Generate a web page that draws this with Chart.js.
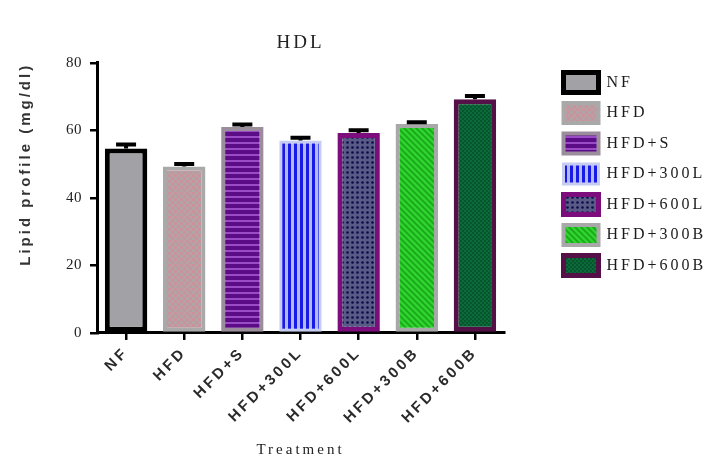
<!DOCTYPE html>
<html lang="en">
<head>
<meta charset="UTF-8">
<title>HDL</title>
<script src="https://cdn.jsdelivr.net/npm/chart.js"></script>
<style>
  body { margin: 0; background: #fff; }
</style>
</head>
<body>
<canvas id="hdlChart" width="705" height="459"></canvas>
<script>
  // data
  const groups = ['NF', 'HFD', 'HFD+S', 'HFD+300L', 'HFD+600L', 'HFD+300B', 'HFD+600B'];
  const hdl = [54.6, 49.3, 61.0, 57.0, 59.2, 61.9, 69.2];
  const sem = [1.2, 0.7, 0.7, 0.8, 0.8, 0.5, 1.0];
  const yTicks = [0, 20, 40, 60, 80];

  const borderColors = ['#000000', '#a9a9a9', '#9c8d9c', '#c6cdf0', '#7d0c7d', '#a8a8a8', '#561048'];
  const borderWidths = [5, 4, 4, 3, 5, 4, 5];

  const canvas = document.getElementById('hdlChart');
  const ctx = canvas.getContext('2d');

  // small repeating tiles for the hatched fills
  function tile(w, h, paint) {
    const c = document.createElement('canvas');
    c.width = w; c.height = h;
    paint(c.getContext('2d'), w, h);
    return ctx.createPattern(c, 'repeat');
  }

  const fills = [
    '#a2a2a6',
    tile(6, 6, (g) => {
      g.fillStyle = '#b3a3a7'; g.fillRect(0, 0, 6, 6);
      g.fillStyle = '#c9939c'; g.fillRect(0, 0, 3, 3); g.fillRect(3, 3, 3, 3);
    }),
    tile(1, 6, (g) => {
      g.fillStyle = '#5c0c86'; g.fillRect(0, 0, 1, 4);
      g.fillStyle = '#9a4cc4'; g.fillRect(0, 4, 1, 2);
    }),
    tile(6, 1, (g) => {
      g.fillStyle = '#1a1ae6'; g.fillRect(0, 0, 3, 1);
      g.fillStyle = '#b2baf2'; g.fillRect(3, 0, 3, 1);
    }),
    tile(5, 5, (g) => {
      g.fillStyle = '#5a5a86'; g.fillRect(0, 0, 5, 5);
      g.fillStyle = '#0c0c4a'; g.beginPath(); g.arc(2.5, 2.5, 1.3, 0, Math.PI * 2); g.fill();
    }),
    tile(6, 6, (g) => {
      g.fillStyle = '#2fd42f'; g.fillRect(0, 0, 6, 6);
      g.strokeStyle = '#1aa51a'; g.lineWidth = 1.6;
      g.beginPath(); g.moveTo(0, 0); g.lineTo(6, 6); g.moveTo(-3, 3); g.lineTo(3, 9); g.moveTo(3, -3); g.lineTo(9, 3); g.stroke();
    }),
    tile(4, 4, (g) => {
      g.fillStyle = '#0b6b3a'; g.fillRect(0, 0, 4, 4);
      g.fillStyle = '#07552d'; g.fillRect(0, 0, 2, 2); g.fillRect(2, 2, 2, 2);
    })
  ];

  const LEGEND_W = 201;
  const LEGEND_SHIFT_X = 49;
  const LEGEND_SHIFT_Y = 62;
  const SPACING = '3px';

  // spaced lettering + legend placement
  const layoutTweaks = {
    id: 'layoutTweaks',
    beforeLayout(chart) {
      chart.ctx.letterSpacing = SPACING;
      const lg = chart.legend;
      if (lg && !lg._patched) {
        const fit = lg.fit;
        lg.fit = function () { fit.call(this); this.width = LEGEND_W; };
        lg._patched = true;
      }
    },
    afterLayout(chart) {
      const lg = chart.legend;
      lg.left += LEGEND_SHIFT_X;
      lg.top += LEGEND_SHIFT_Y;
    },
    beforeDraw(chart) {
      chart.ctx.letterSpacing = SPACING;
    }
  };

  // SEM caps on top of each bar
  const errorBars = {
    id: 'errorBars',
    afterDatasetsDraw(chart) {
      const y = chart.scales.y;
      const meta = chart.getDatasetMeta(0);
      const c = chart.ctx;
      c.save();
      c.strokeStyle = '#000';
      c.lineWidth = 4;
      meta.data.forEach((bar, i) => {
        const top = y.getPixelForValue(hdl[i] + sem[i]);
        c.beginPath();
        c.moveTo(bar.x, bar.y);
        c.lineTo(bar.x, top);
        c.moveTo(bar.x - 10, top);
        c.lineTo(bar.x + 10, top);
        c.stroke();
      });
      c.restore();
    }
  };

  const chart = new Chart(ctx, {
    type: 'bar',
    data: {
      labels: groups,
      datasets: [{
        data: hdl,
        backgroundColor: fills,
        borderColor: borderColors,
        borderWidth: borderWidths,
        borderSkipped: false,
        barPercentage: 0.73,
        categoryPercentage: 1.0
      }]
    },
    options: {
      responsive: false,
      animation: false,
      layout: { padding: { top: 0, right: 0, bottom: 0, left: 8 } },
      plugins: {
        title: {
          display: true,
          text: 'HDL',
          fullSize: false,
          color: '#222',
          font: { family: 'Liberation Serif', size: 19, weight: 'normal' },
          padding: { top: 32, bottom: 8 }
        },
        legend: {
          position: 'right',
          align: 'start',
          labels: {
            boxWidth: 35,
            boxHeight: 20,
            padding: 10.5,
            color: '#1a1a1a',
            font: { family: 'Liberation Serif', size: 16 },
            generateLabels: () => groups.map((g, i) => ({
              text: g,
              fillStyle: fills[i],
              strokeStyle: borderColors[i],
              lineWidth: borderWidths[i],
              fontColor: '#1a1a1a',
              hidden: false,
              index: i
            }))
          },
          onClick: () => {}
        },
        tooltip: { enabled: false }
      },
      scales: {
        x: {
          grid: { display: true, drawOnChartArea: false, offset: false, color: '#000', lineWidth: 2.5, tickLength: 7 },
          border: { color: '#000', width: 3 },
          ticks: {
            minRotation: 45,
            maxRotation: 45,
            color: '#2a2a2a',
            padding: 4,
            font: { family: 'Liberation Sans', size: 15, weight: 'bold' }
          },
          title: {
            display: true,
            text: 'Treatment',
            color: '#222',
            font: { family: 'Liberation Serif', size: 15 },
            padding: { top: 10, bottom: 0 }
          }
        },
        y: {
          min: 0,
          max: 80,
          afterBuildTicks: (scale) => { scale.ticks = yTicks.map((v) => ({ value: v })); },
          grid: { display: true, drawOnChartArea: false, color: '#000', lineWidth: 2.5, tickLength: 7 },
          border: { color: '#000', width: 3 },
          ticks: {
            color: '#222',
            padding: 8,
            font: { family: 'Liberation Serif', size: 15 }
          },
          title: {
            display: true,
            text: 'Lipid profile (mg/dl)',
            align: 'end',
            color: '#333',
            font: { family: 'Liberation Sans', size: 15, weight: 'bold' },
            padding: { top: 9, bottom: 18 }
          }
        }
      }
    },
    plugins: [layoutTweaks, errorBars]
  });

  // the y tick numbers are not letter-spaced in the figure
  const yScale = chart.scales.y;
  const drawYLabels = yScale.drawLabels;
  yScale.drawLabels = function (area) {
    const c = this.ctx;
    const prev = c.letterSpacing;
    c.letterSpacing = '0.5px';
    drawYLabels.call(this, area);
    c.letterSpacing = prev;
  };
  chart.draw();
</script>
</body>
</html>
